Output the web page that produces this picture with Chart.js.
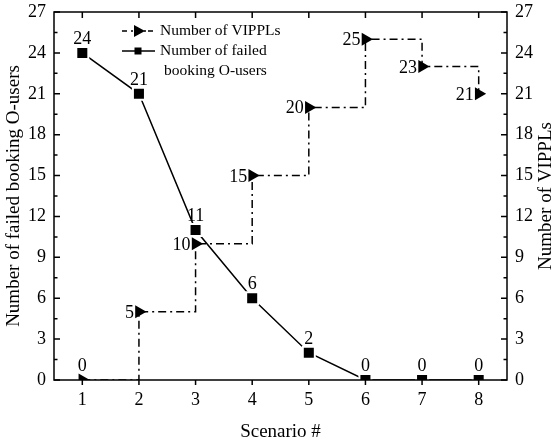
<!DOCTYPE html>
<html>
<head>
<meta charset="utf-8">
<script src="https://cdn.jsdelivr.net/npm/chart.js@4.4.0/dist/chart.umd.min.js"></script>
<style>
  html, body { margin: 0; padding: 0; background: #fff; }
  #wrap { width: 556px; height: 444px; }
</style>
</head>
<body>
<div id="wrap"><canvas id="myChart" width="556" height="444"></canvas></div>
<script>
const scenarios = ["1", "2", "3", "4", "5", "6", "7", "8"];
const failedUsers = [24, 21, 11, 6, 2, 0, 0, 0];
const vippls = [0, 5, 10, 15, 20, 25, 23, 21];
const yMin = 0;
const yMax = 27;
const yStep = 3;

const serif = "'Liberation Serif', 'Times New Roman', serif";
Chart.defaults.font.family = serif;
Chart.defaults.color = "#000";

const dashDot = [8, 4, 2, 4];

// frame with inward ticks like the original plot
const framePlugin = {
  id: "frame",
  afterDatasetsDraw(chart) {
    const { ctx, chartArea: a, scales } = chart;
    ctx.save();
    ctx.strokeStyle = "#000";
    ctx.lineWidth = 1.5;
    ctx.setLineDash([]);
    ctx.strokeRect(a.left, a.top, a.right - a.left, a.bottom - a.top);
    ctx.beginPath();
    for (let v = yMin; v <= yMax; v += yStep / 2) {
      const y = scales.y.getPixelForValue(v);
      const len = v % yStep === 0 ? 6 : 3.5;
      ctx.moveTo(a.left, y);
      ctx.lineTo(a.left + len, y);
      ctx.moveTo(a.right, y);
      ctx.lineTo(a.right - len, y);
    }
    scenarios.forEach((s, i) => {
      const x = scales.x.getPixelForValue(i);
      ctx.moveTo(x, a.top);
      ctx.lineTo(x, a.top + 6);
      ctx.moveTo(x, a.bottom);
      ctx.lineTo(x, a.bottom + 5);
    });
    ctx.stroke();

    // right axis title reads bottom to top, like the left one
    ctx.font = "19px " + serif;
    ctx.fillStyle = "#000";
    ctx.textAlign = "center";
    ctx.textBaseline = "middle";
    ctx.translate(546, (a.top + a.bottom) / 2);
    ctx.rotate(-Math.PI / 2);
    ctx.fillText("Number of VIPPLs", 0, 0);
    ctx.restore();
  },
};

// value labels next to the markers
const labelPlugin = {
  id: "valueLabels",
  afterDatasetsDraw(chart) {
    const ctx = chart.ctx;
    ctx.save();
    ctx.fillStyle = "#000";
    ctx.font = "18px " + serif;
    ctx.textBaseline = "alphabetic";
    const failedMeta = chart.getDatasetMeta(0);
    failedMeta.data.forEach((pt, i) => {
      ctx.textAlign = "center";
      ctx.fillText(String(failedUsers[i]), pt.x, pt.y - 9);
    });
    const vMeta = chart.getDatasetMeta(1);
    vMeta.data.forEach((pt, i) => {
      if (i === 0) {
        ctx.textAlign = "center";
        ctx.fillText(String(vippls[i]), pt.x, pt.y - 9);
        return;
      }
      ctx.textAlign = "right";
      ctx.fillText(String(vippls[i]), pt.x - 5, pt.y + 6);
    });
    ctx.restore();
  },
};

const legendPlugin = {
  id: "boxLegend",
  afterDraw(chart) {
    const ctx = chart.ctx;
    ctx.save();
    ctx.strokeStyle = "#000";
    ctx.fillStyle = "#000";
    ctx.lineWidth = 1.5;
    const x0 = 122, x1 = 155, tx = 160;
    const r1 = 31, r2 = 51, r3 = 71;
    ctx.setLineDash([5, 4, 2, 2]);
    ctx.beginPath();
    ctx.moveTo(x0, r1);
    ctx.lineTo(x1, r1);
    ctx.stroke();
    ctx.setLineDash([]);
    ctx.beginPath();
    ctx.moveTo(134, r1 - 6);
    ctx.lineTo(145, r1);
    ctx.lineTo(134, r1 + 6);
    ctx.closePath();
    ctx.fill();
    ctx.beginPath();
    ctx.moveTo(x0, r2);
    ctx.lineTo(x1, r2);
    ctx.stroke();
    ctx.fillRect(134.5, r2 - 3.5, 7, 7);
    ctx.font = "15.5px " + serif;
    ctx.textAlign = "left";
    ctx.textBaseline = "middle";
    ctx.fillText("Number of VIPPLs", tx, r1);
    ctx.fillText("Number of failed", tx, r2);
    ctx.fillText("booking O-users", tx + 4, r3);
    ctx.restore();
  },
};

const tickFont = { size: 18 };
const titleFont = { size: 19 };

// keep the plot area where the original has it
const fitY = (s) => {
  s.width = s.options.position === "left" ? 54 : 49;
  s.paddingTop = 0;
  s.paddingBottom = 0;
};

const ctx = document.getElementById("myChart").getContext("2d");
const myChart = new Chart(ctx, {
  type: "line",
  data: {
    labels: scenarios,
    datasets: [
      {
        label: "Number of failed booking O-users",
        data: failedUsers,
        yAxisID: "y",
        borderColor: "#000",
        borderWidth: 1.5,
        pointStyle: "rect",
        pointRadius: 8.5,
        pointBackgroundColor: "#000",
        pointBorderColor: "#fff",
        pointBorderWidth: 2,
        tension: 0,
      },
      {
        label: "Number of VIPPLs",
        data: vippls,
        yAxisID: "y2",
        borderColor: "#000",
        borderWidth: 1.5,
        borderDash: dashDot,
        stepped: true,
        pointStyle: "triangle",
        pointRotation: 90,
        pointRadius: 7.5,
        pointBackgroundColor: "#000",
        pointBorderWidth: 0,
      },
    ],
  },
  options: {
    responsive: false,
    animation: false,
    devicePixelRatio: 1,
    layout: { padding: { top: 12, left: 0, right: 0, bottom: 0 } },
    plugins: {
      legend: { display: false },
      tooltip: { enabled: false },
    },
    scales: {
      x: {
        type: "category",
        offset: true,
        grid: { display: false, drawTicks: false },
        border: { display: false },
        ticks: { font: tickFont, padding: 9, color: "#000" },
        title: {
          display: true,
          text: "Scenario #",
          font: titleFont,
          color: "#000",
          padding: { top: 0, bottom: 1 },
        },
        afterFit(s) {
          s.height = 64;
          s.paddingLeft = 0;
          s.paddingRight = 0;
        },
      },
      y: {
        position: "left",
        min: yMin,
        max: yMax,
        grid: { display: false, drawTicks: false },
        border: { display: false },
        ticks: { stepSize: yStep, font: tickFont, padding: 8, color: "#000" },
        title: {
          display: true,
          text: "Number of failed booking O-users",
          font: titleFont,
          color: "#000",
          padding: { top: 3, bottom: 0 },
        },
        afterFit: fitY,
      },
      y2: {
        position: "right",
        min: yMin,
        max: yMax,
        grid: { display: false, drawTicks: false },
        border: { display: false },
        ticks: { stepSize: yStep, font: tickFont, padding: 8, color: "#000" },
        afterFit: fitY,
      },
    },
  },
  plugins: [framePlugin, labelPlugin, legendPlugin],
});
</script>
</body>
</html>
